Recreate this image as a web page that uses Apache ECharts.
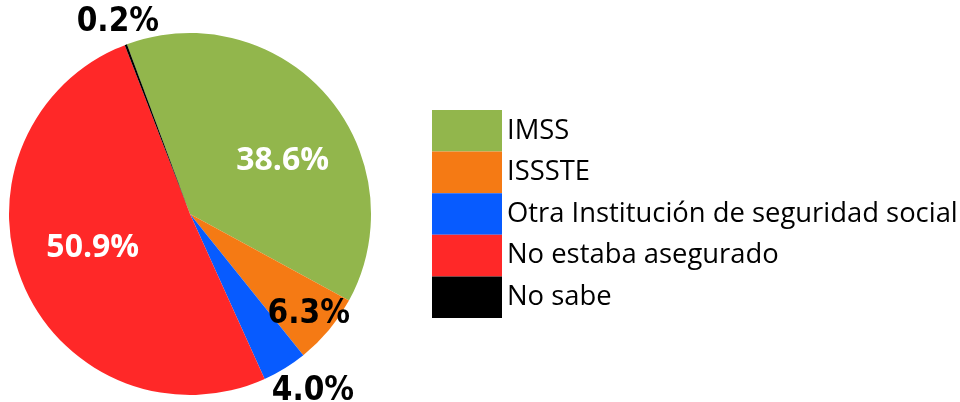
<!DOCTYPE html>
<html>
<head>
<meta charset="utf-8">
<script src="https://cdn.jsdelivr.net/npm/echarts@6/dist/echarts.min.js"></script>
<style>
  html, body { margin: 0; padding: 0; background: #fff; }
  #chart { width: 960px; height: 402px; }
</style>
</head>
<body>
<div id="chart"></div>
<script>
  // datos
  var categories = ['IMSS', 'ISSSTE', 'Otra Institución de seguridad social', 'No estaba asegurado', 'No sabe']
  var values = [38.6, 6.3, 4.0, 50.9, 0.2]
  var colors = ['#92B64C', '#F57A14', '#075BFF', '#FF2828', '#000000']

  // ajuste de etiquetas (desplazamiento desde la posicion "inside")
  var labelShift = [[22, 8], [47, 40], [74, 98], [-11, -2], [-39, -104]]
  var whiteLabel = [true, false, false, true, false]

  var data = []
  for (var i = 0; i < categories.length; i++) {
    var lbl = whiteLabel[i]
      ? { color: '#fff', fontFamily: 'Open Sans', fontWeight: 'bold', fontSize: 32 }
      : { color: '#000', fontFamily: '"DejaVu Sans Condensed", "Liberation Sans", sans-serif', fontWeight: 'bold', fontSize: 33 }
    data.push({ name: categories[i], value: values[i], itemStyle: { color: colors[i] }, label: lbl })
  }

  var myChart = echarts.init(document.getElementById('chart'))
  var option = {
    animation: false,
    legend: {
      orient: 'vertical',
      left: 427,
      top: 105,
      itemWidth: 70,
      itemHeight: 41.6,
      itemGap: 0,
      icon: 'rect',
      selectedMode: false,
      data: categories,
      textStyle: { fontFamily: 'Open Sans', fontSize: 27.4, color: '#000' }
    },
    series: [
      {
        type: 'pie',
        center: [190, 214],
        radius: 181,
        startAngle: 110.4,
        clockwise: true,
        avoidLabelOverlap: false,
        data: data,
        label: {
          show: true,
          position: 'inside',
          formatter: function (p) { return p.value.toFixed(1) + '%' }
        },
        labelLine: { show: false },
        labelLayout: function (params) {
          var s = labelShift[params.dataIndex]
          return { dx: s[0], dy: s[1] }
        },
        emphasis: { disabled: true }
      }
    ]
  }
  myChart.setOption(option)
</script>
</body>
</html>
